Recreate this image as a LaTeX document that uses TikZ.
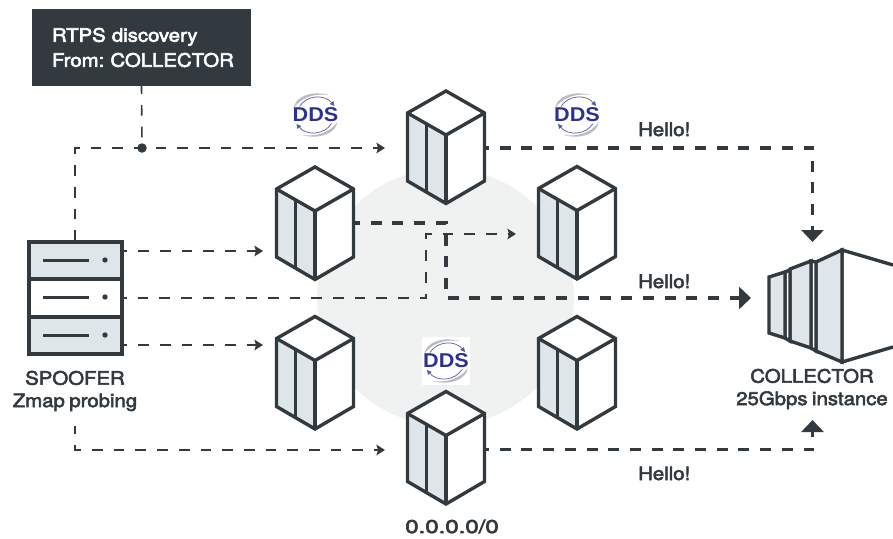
\documentclass[tikz,border=0pt]{standalone}
\usepackage{fontspec}
\usetikzlibrary{arrows.meta}
\newfontfamily\labfont[FakeBold=3,FakeStretch=1.1,WordSpace=0.8]{TeX Gyre Heros}
\newfontfamily\logofont{Liberation Sans Bold}
\definecolor{ink}{HTML}{323A40}
\definecolor{pale}{HTML}{DFE6E9}
\definecolor{halo}{HTML}{F0F2F2}
\definecolor{ddsblue}{HTML}{2E3192}
\definecolor{ddsgrey}{HTML}{B9BCC4}
\tikzset{
  solidline/.style={draw=ink,line width=3.4pt,line join=miter},
  thinflow/.style={draw=ink,line width=1.6pt,dash pattern=on 10.7pt off 11pt,-{Stealth[length=8.5pt,width=10.5pt,inset=1.5pt]}},
  thinstub/.style={draw=ink,line width=1.6pt,dash pattern=on 10.7pt off 11pt},
  thickflow/.style={draw=ink,line width=3.8pt,dash pattern=on 11pt off 10.7pt,-{Triangle[length=12pt,width=22pt]}},
  lab/.style={font=\labfont\fontsize{18.5}{22.4}\selectfont,text=ink,inner sep=0pt,align=center},
  hello/.style={font=\labfont\fontsize{18.5}{22}\selectfont,text=ink,inner sep=0pt,anchor=base west},
  srvrow/.style={rectangle,solidline,minimum width=93pt,inner sep=0pt},
  ghost/.style={rectangle,minimum width=77pt,minimum height=112pt,inner sep=0pt}
}
\newcommand{\cubeat}[3]{%
  \begin{scope}[shift={(#2,#3)}]
    \fill[white] (0,0) -- (38.5,22) -- (38.5,90) -- (0,112.5) -- (-38.5,90) -- (-38.5,22) -- cycle;
    \fill[pale] (-38.5,22) -- (0,44) -- (0,112.5) -- (-38.5,90) -- cycle;
    \draw[solidline] (0,0) -- (38.5,22) -- (38.5,90) -- (0,112.5) -- (-38.5,90) -- (-38.5,22) -- cycle;
    \draw[solidline] (-38.5,22) -- (0,44) -- (38.5,22);
    \draw[solidline] (0,44) -- (0,112.5);
    \draw[solidline] (-19.5,33) -- (-19.5,101);
    \node[ghost,name=#1] at (0,56) {};
  \end{scope}}
\newcommand{\ddslogo}[3]{%
  \begin{scope}[shift={(#2,#3)}]
    \fill[ddsgrey] (-22,-7) .. controls (-20,-18) and (-5,-25) .. (14,-20) .. controls (0,-22) and (-14,-18) .. cycle;
    \fill[ddsgrey] (22,7) .. controls (20,18) and (5,25) .. (-14,20) .. controls (0,22) and (14,18) .. cycle;
    \draw[ddsblue!80!white,line width=.7pt,-{Triangle[length=4.5pt,width=4.5pt]}] (-16,-8.5) .. controls (-9,-20) and (9,-21) .. (19,-9);
    \draw[ddsblue!80!white,line width=.7pt,-{Triangle[length=4.5pt,width=4.5pt]}] (16,8.5) .. controls (9,20) and (-9,21) .. (-19,9);
    \node[name=#1,font=\logofont\fontsize{20}{20}\selectfont,text=ddsblue,inner sep=0pt,xscale=1.08] at (0,0) {DDS};
  \end{scope}}
\begin{document}
\begin{tikzpicture}[x=1pt,y=-1pt]
\frenchspacing
\useasboundingbox (0,0) rectangle (893,538);
\fill[halo] (445.5,297) circle[radius=128.5pt];

% waypoints
\coordinate (tipTop) at (385,148);
\coordinate (tipUL) at (263,251);
\coordinate (tipLL) at (263,345);
\coordinate (tipBot) at (385,450);
\coordinate (tipUR) at (516,234);
\coordinate (cornerTL) at (75,148);
\coordinate (cornerBL) at (75,450);
\coordinate (stubBL) at (75,426);
\coordinate (riseA) at (426,298);
\coordinate (riseB) at (426,234);
\coordinate (srvOutA) at (123,251);
\coordinate (srvOutC) at (123,345);
\coordinate (srvOutB) at (123,298);
\coordinate (srvTop) at (75,241);

% tag box
\node[rectangle,fill=ink,text=white,minimum width=219pt,minimum height=77pt,inner xsep=20pt,inner ysep=0pt,text width=179pt,align=left,font=\labfont\fontsize{18.5}{22}\selectfont\frenchspacing,name=tag] at (141.5,47.5) {\vspace*{3pt}\mbox{RTPS discovery}\\\mbox{From: COLLECTOR}};
\node[circle,fill=ink,minimum size=9.5pt,inner sep=0pt,name=junction] at (142,148) {};

% thin probes
\draw[thinflow,dash phase=0pt] (srvTop) -- (cornerTL) -- (tipTop);
\draw[thinstub,dash phase=3pt] (tag.south) -- (junction.north);
\draw[thinflow,dash phase=6.6pt] (srvOutA) -- (tipUL);
\draw[thinflow,dash phase=7pt] (srvOutB) -- (riseA) -- (riseB) -- (tipUR);
\draw[thinflow,dash phase=6.6pt] (srvOutC) -- (tipLL);
\draw[thinflow,dash phase=2.4pt] (stubBL) -- (cornerBL) -- (tipBot);

% server
\node[srvrow,fill=pale,minimum height=37pt,name=srvA] at (75.5,260.5) {};
\node[srvrow,fill=white,minimum height=38pt,name=srvB] at (75.5,298) {};
\node[srvrow,fill=pale,minimum height=37pt,name=srvC] at (75.5,335.5) {};
\foreach \yy in {260,297,335}{
  \draw[ink,line width=3pt] (43,\yy) -- (88.5,\yy);
  \fill[ink] (105,\yy) circle[radius=2.7pt];
}
\node[lab,name=spooflab] at (75,391) {SPOOFER\\Zmap probing};

% cubes
\cubeat{cubeTop}{446}{91}
\cubeat{cubeUL}{315}{167}
\cubeat{cubeUR}{577}{166.5}
\cubeat{cubeLL}{315}{316.5}
\cubeat{cubeLR}{577}{316.5}
\fill[white] (422,337) rectangle (470,385);
\cubeat{cubeBot}{446}{391.5}

% collector
\coordinate (collTop) at (812.5,242);
\coordinate (collMid) at (751,298);
\coordinate (collBot) at (812.5,420);
\coordinate (bendA) at (812.5,148);
\coordinate (bendB) at (446,223);
\coordinate (bendC) at (446,298);
\coordinate (bendD) at (812.5,449.5);
\fill[white] (842,250) -- (893,265) -- (893,347) -- (842,362) -- cycle;
\draw[solidline] (893,265) -- (842,250) -- (842,362) -- (893,347);
\filldraw[solidline,fill=pale] (816,262) -- (842,250) -- (842,362) -- (816,351) -- cycle;
\filldraw[solidline,fill=white] (811,261) -- (816,262) -- (816,351) -- (811,348) -- cycle;
\filldraw[solidline,fill=pale] (790,269) -- (811,261) -- (811,348) -- (790,341) -- cycle;
\filldraw[solidline,fill=white] (785,272) -- (790,270) -- (790,341) -- (785,338) -- cycle;
\filldraw[solidline,fill=pale] (769,277) -- (785,272) -- (785,338) -- (769,333) -- cycle;
\node[lab,name=colllab] at (812,389) {COLLECTOR\\25Gbps instance};

% replies
\draw[thickflow,dash phase=6.7pt] (cubeTop.east |- bendA) -- (bendA) -- (collTop);
\draw[thickflow,dash phase=4.7pt] (cubeUL.east |- bendB) -- (bendB) -- (bendC) -- (collMid);
\draw[thickflow,dash phase=6.7pt] (cubeBot.east |- bendD) -- (bendD) -- (collBot);

% labels
\node[hello,name=helloA] at (638,136) {Hello!};
\node[hello,name=helloB] at (638,288) {Hello!};
\node[hello,name=helloC] at (638,480) {Hello!};
\node[font=\labfont\fontsize{18.5}{22}\selectfont,text=ink,inner sep=0pt,anchor=base,name=rangelab,xscale=1.18] at (452,533) {0.0.0.0/0};

\ddslogo{ddsA}{315.5}{115}
\ddslogo{ddsB}{577}{115}
\ddslogo{ddsC}{446}{361}
\end{tikzpicture}
\end{document}
